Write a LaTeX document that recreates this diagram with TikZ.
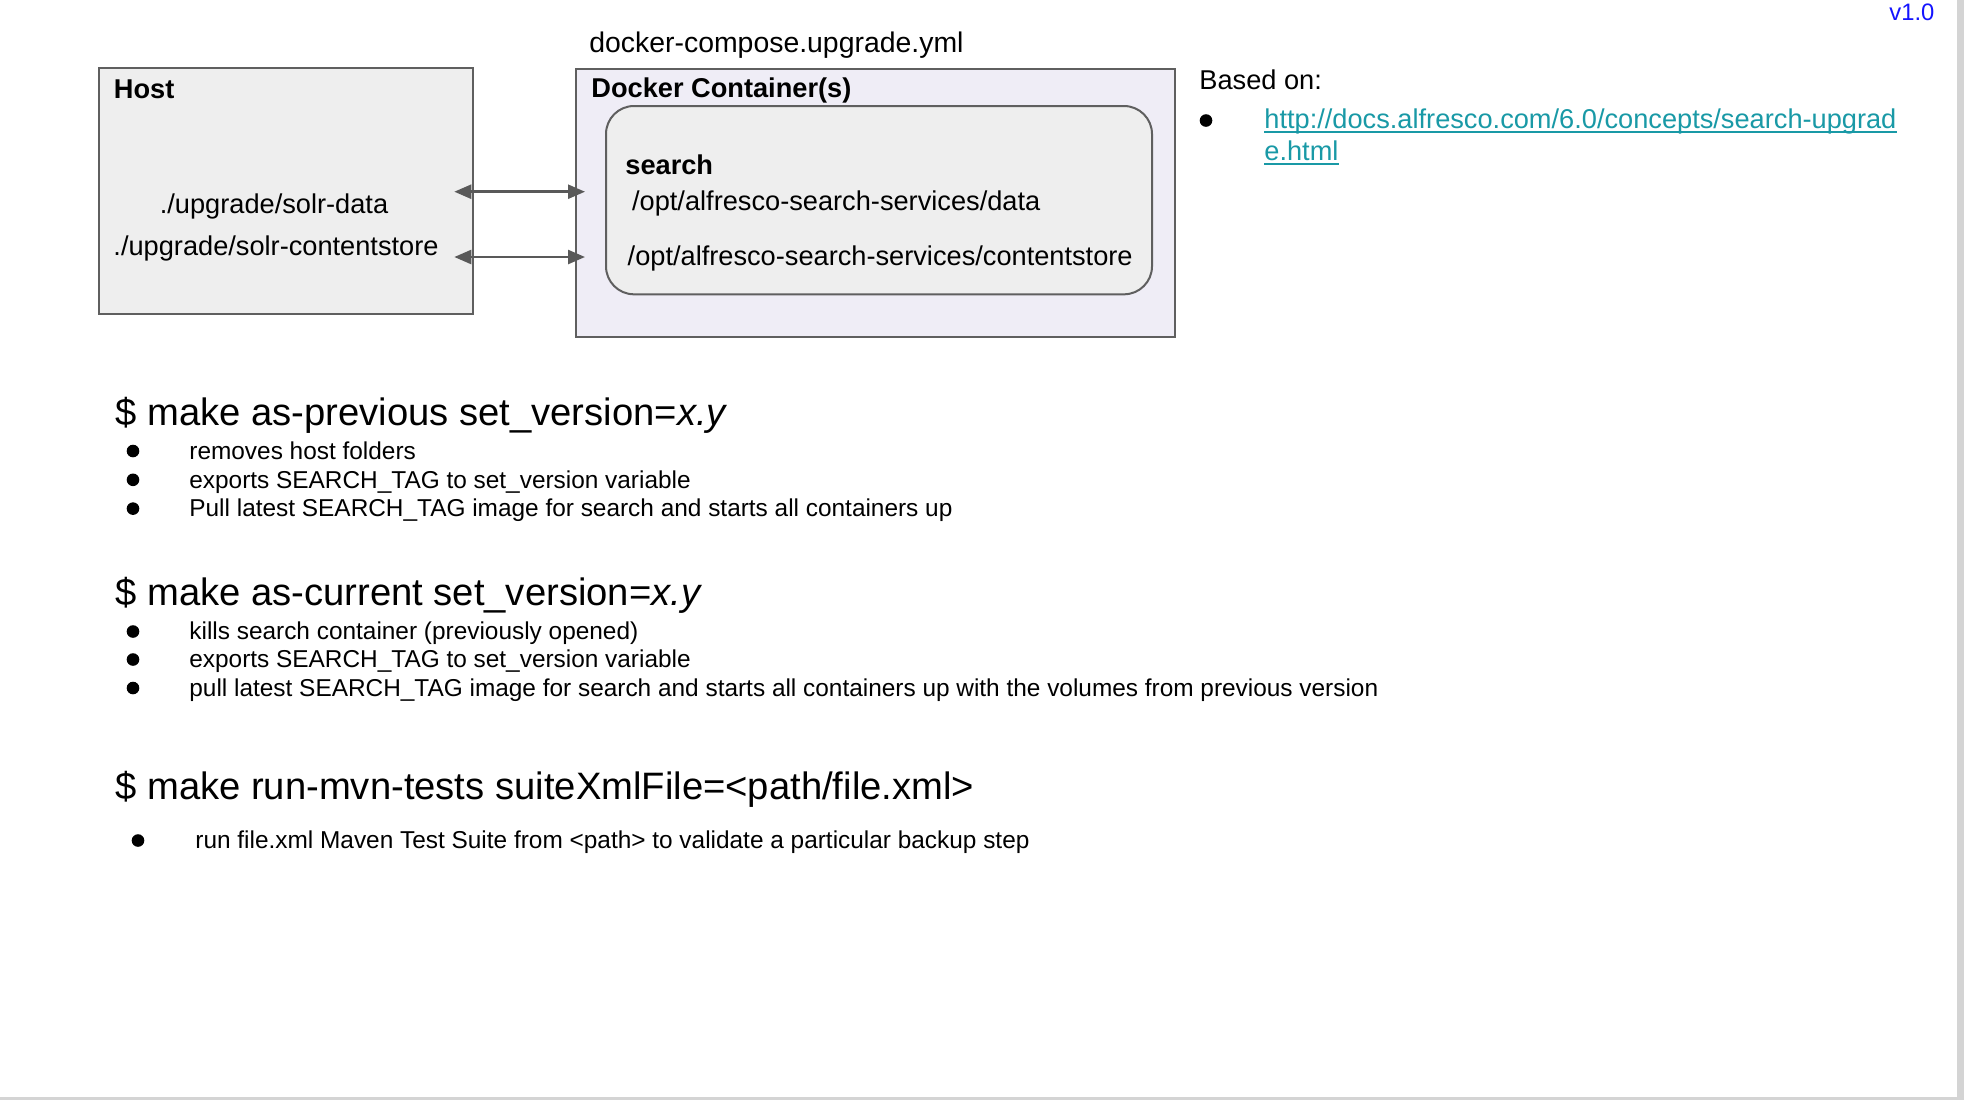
\documentclass[tikz,border=0pt]{standalone}
\usepackage{fontspec}
\setmainfont{Liberation Sans}
\usetikzlibrary{arrows.meta}
\definecolor{edgec}{HTML}{5F5F5F}
\definecolor{arrowc}{HTML}{595959}
\definecolor{hostfill}{HTML}{EEEEEE}
\definecolor{dockfill}{HTML}{EFEDF6}
\definecolor{linkc}{RGB}{25,153,166}
\definecolor{vblue}{RGB}{20,20,255}
\definecolor{pageedge}{HTML}{D4D4D4}
\tikzset{
  txt/.style={inner sep=0pt, anchor=base west, font=\fontsize{13.6pt}{16pt}\selectfont},
  txtc/.style={inner sep=0pt, anchor=base, font=\fontsize{13.6pt}{16pt}\selectfont},
  headtxt/.style={inner sep=0pt, anchor=base west, font=\fontsize{19.1pt}{23pt}\selectfont},
  itemtxt/.style={inner sep=0pt, anchor=base west, font=\fontsize{12.2pt}{15pt}\selectfont},
  bdot/.style={circle, fill=black, draw=none, inner sep=0pt, minimum size=6.3pt},
  boxstyle/.style={draw=edgec, line width=1pt, inner sep=0pt, anchor=north west},
  linktxt/.style={inner sep=0pt, anchor=base west, text=linkc, font=\fontsize{13.6pt}{16pt}\selectfont},
  uline/.style={draw=linkc, line width=0.9pt},
  conn/.style={draw=arrowc, line width=1.25pt,
    {Triangle[length=8.5pt,width=7pt]}-{Triangle[length=8.5pt,width=7pt]}}
}
\begin{document}
\begin{tikzpicture}[x=0.5pt,y=-0.5pt]
\useasboundingbox (0,0) rectangle (1964,1100);
% page edge
\fill[pageedge] (1957,0) rectangle (1964,1100);
\fill[pageedge] (0,1097) rectangle (1964,1100);

% version
\node[inner sep=0pt, anchor=base west, text=vblue, font=\fontsize{11.9pt}{14pt}\selectfont] (ver) at (1889,20.5) {v1.0};

% boxes
\node[boxstyle, fill=hostfill, minimum width=187.4pt, minimum height=123.15pt] (host) at (97.5,67) {};
\node[boxstyle, fill=dockfill, minimum width=299.5pt, minimum height=134.15pt] (dock) at (574.7,67.7) {};
\node[boxstyle, fill=hostfill, rounded corners=14pt, minimum width=273pt, minimum height=94.15pt] (srch) at (605,105) {};

% box texts
\node[txt, font=\fontsize{13.6pt}{16pt}\selectfont\bfseries] (hostlbl) at (113.5,98) {Host};
\node[txtc] (hd1) at (274,213.7) {./upgrade/solr-data};
\node[txtc] (hd2) at (276,255) {./upgrade/solr-contentstore};
\node[txt, font=\fontsize{14.2pt}{17pt}\selectfont] (compose) at (589,52.5) {docker-compose.upgrade.yml};
\node[txt, font=\fontsize{13.6pt}{16pt}\selectfont\bfseries] (docklbl) at (591,97.5) {Docker Container(s)};
\node[txt, font=\fontsize{13.6pt}{16pt}\selectfont\bfseries] (srchlbl) at (625,174) {search};
\node[txt] (cd1) at (631.7,210) {/opt/alfresco-search-services/data};
\node[txt] (cd2) at (627.3,265.5) {/opt/alfresco-search-services/contentstore};

% connectors
\coordinate (a1l) at (454.3,191.7);
\coordinate (a1r) at (585,191.7);
\coordinate (a2l) at (454.3,257);
\coordinate (a2r) at (585,257);
\draw[conn] (a1l) -- (a1r);
\draw[conn] (a2l) -- (a2r);

% based on
\node[txt] (based) at (1199,89) {Based on:};
\node[bdot] (bb) at (1206,120.5) {};
\node[linktxt] (lk1) at (1264,128) {http://docs.alfresco.com/6.0/concepts/search-upgrad};
\node[linktxt] (lk2) at (1264,160.5) {e.html};
\draw[uline] ([yshift=-1.8pt]lk1.base west) -- ([yshift=-1.8pt]lk1.base east);
\draw[uline] ([yshift=-1.8pt]lk2.base west) -- ([yshift=-1.8pt]lk2.base east);

% heading 1
\node[headtxt] (h1) at (115,425.5) {\$ make as-previous set\_version=\textit{x.y}};
\node[bdot] (d11) at (133,451) {};
\node[bdot] (d12) at (133,479.8) {};
\node[bdot] (d13) at (133,508.6) {};
\node[itemtxt] (t11) at (189,459.2) {removes host folders};
\node[itemtxt] (t12) at (189,488) {exports SEARCH\_TAG to set\_version variable};
\node[itemtxt] (t13) at (189,516.8) {Pull latest SEARCH\_TAG image for search and starts all containers up};

% heading 2
\node[headtxt] (h2) at (115,605.5) {\$ make as-current set\_version=\textit{x.y}};
\node[bdot] (d21) at (133,631.5) {};
\node[bdot] (d22) at (133,659.5) {};
\node[bdot] (d23) at (133,688) {};
\node[itemtxt] (t21) at (189,639.5) {kills search container (previously opened)};
\node[itemtxt] (t22) at (189,667.5) {exports SEARCH\_TAG to set\_version variable};
\node[itemtxt] (t23) at (189,696) {pull latest SEARCH\_TAG image for search and starts all containers up with the volumes from previous version};

% heading 3
\node[headtxt] (h3) at (115,799) {\$ make run-mvn-tests suiteXmlFile=<path/file.xml>};
\node[bdot] (d31) at (138,840.5) {};
\node[itemtxt] (t31) at (195,848.5) {run file.xml Maven Test Suite from <path> to validate a particular backup step};
\end{tikzpicture}
\end{document}
